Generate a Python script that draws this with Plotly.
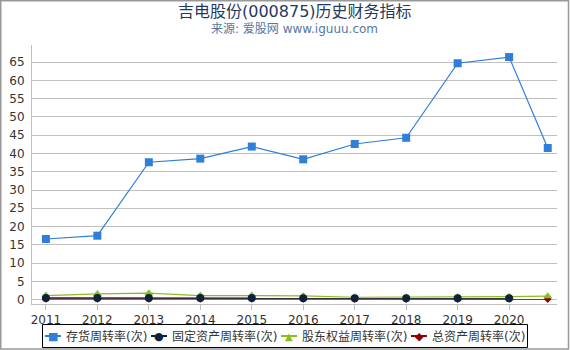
import plotly.graph_objects as go

years = [2011, 2012, 2013, 2014, 2015, 2016, 2017, 2018, 2019, 2020, 2020.75]
tick_years = [2011, 2012, 2013, 2014, 2015, 2016, 2017, 2018, 2019, 2020]
tick_labels = ["2011", "2012", "2013", "2014", "2015", "2016", "2017", "2018", "2019", "2020"]

inventory = [16.6, 17.5, 37.6, 38.6, 41.9, 38.4, 42.6, 44.3, 64.7, 66.4, 41.5]
fixed_assets = [0.45, 0.45, 0.45, 0.45, 0.45, 0.4, 0.35, 0.35, 0.4, 0.4, None]
equity = [1.1, 1.55, 1.75, 1.1, 1.1, 1.0, 0.65, 0.65, 0.75, 0.8, 0.95]
total_assets = [0.2, 0.2, 0.2, 0.2, 0.2, 0.2, 0.15, 0.15, 0.15, 0.2, 0.15]

names = ["存货周转率(次)", "固定资产周转率(次)", "股东权益周转率(次)", "总资产周转率(次)"]
colors = ["#2f7ed8", "#0d233a", "#8bbc21", "#910000"]
symbols = ["square", "circle", "triangle-up", "diamond"]
marker_sizes = [8, 8, 8, 6]
glyphs = ["■", "●", "▲", "◆"]

W, H = 570, 350
ML, MR, MT, MB = 32, 13, 45, 46
PW, PH = W - ML - MR, H - MT - MB


def px(x):
    return (x - ML) / PW


def py(y):
    return (H - MB - y) / PH


series = [inventory, fixed_assets, equity, total_assets]
# draw order: total assets at the bottom, then equity, fixed assets, inventory on top
order = [3, 2, 1, 0]

fig = go.Figure()
for i in order:
    fig.add_trace(go.Scatter(
        x=years, y=series[i], name=names[i], mode="lines+markers",
        line=dict(color=colors[i], width=1.2),
        marker=dict(symbol=symbols[i], size=marker_sizes[i], color=colors[i]),
        showlegend=False,
    ))

font = "DejaVu Sans, Noto Sans CJK SC, sans-serif"

annotations = [
    dict(text="吉电股份(000875)历史财务指标", x=0.5, y=py(11), xref="paper", yref="paper",
         showarrow=False, xanchor="center", yanchor="middle",
         font=dict(size=16, color="#1f3a5f", family=font)),
    dict(text="来源: 爱股网 www.iguuu.com", x=0.5, y=py(28.5), xref="paper", yref="paper",
         showarrow=False, xanchor="center", yanchor="middle",
         font=dict(size=12, color="#5577a0", family=font)),
]
shapes = [
    dict(type="rect", xref="paper", yref="paper",
         x0=px(0.75), x1=px(568.5), y0=py(349), y1=py(0.75),
         line=dict(color="#999999", width=1.5), layer="above"),
    dict(type="rect", xref="paper", yref="paper",
         x0=px(42.5), x1=px(527.5), y0=py(347.5), y1=py(324.5),
         line=dict(color="#000000", width=1)),
]

marker_x = [53, 159, 289, 419]
glyph_sizes = [11, 11, 10, 11]
for mx, name, color, g, gs in zip(marker_x, names, colors, glyphs, glyph_sizes):
    shapes.append(dict(type="line", xref="paper", yref="paper",
                       x0=px(mx - 8), x1=px(mx + 8), y0=py(336), y1=py(336),
                       line=dict(color=color, width=2)))
    annotations.append(dict(text=g, x=px(mx), y=py(336), xref="paper", yref="paper",
                            showarrow=False, xanchor="center", yanchor="middle",
                            font=dict(size=gs, color=color, family="DejaVu Sans")))
    annotations.append(dict(text=name, x=px(mx + 11), y=py(336), xref="paper", yref="paper",
                            showarrow=False, xanchor="left", yanchor="middle",
                            font=dict(size=12, color="#333333", family=font)))

fig.update_layout(
    width=W, height=H,
    margin=dict(l=ML, r=MR, t=MT, b=MB, autoexpand=False),
    paper_bgcolor="white", plot_bgcolor="white",
    font=dict(family=font, size=12, color="#333333"),
    showlegend=False,
    xaxis=dict(
        range=[2010.73, 2020.93], tickvals=tick_years, ticktext=tick_labels,
        showgrid=False, showline=True, linecolor="#c0c0c0", linewidth=1,
        ticks="outside", ticklen=5, tickcolor="#c0c0c0",
        tickfont=dict(size=12, color="#333333"), zeroline=False,
    ),
    yaxis=dict(
        range=[-1.2, 69.7], tickvals=list(range(0, 70, 5)),
        showgrid=True, gridcolor="#c0c0c0", gridwidth=1,
        showline=True, linecolor="#c0c0c0", linewidth=1,
        tickfont=dict(size=12, color="#333333"), zeroline=False,
        ticks="", ticklabelstandoff=4,
    ),
    annotations=annotations,
    shapes=shapes,
)

fig.write_html("out.html")
